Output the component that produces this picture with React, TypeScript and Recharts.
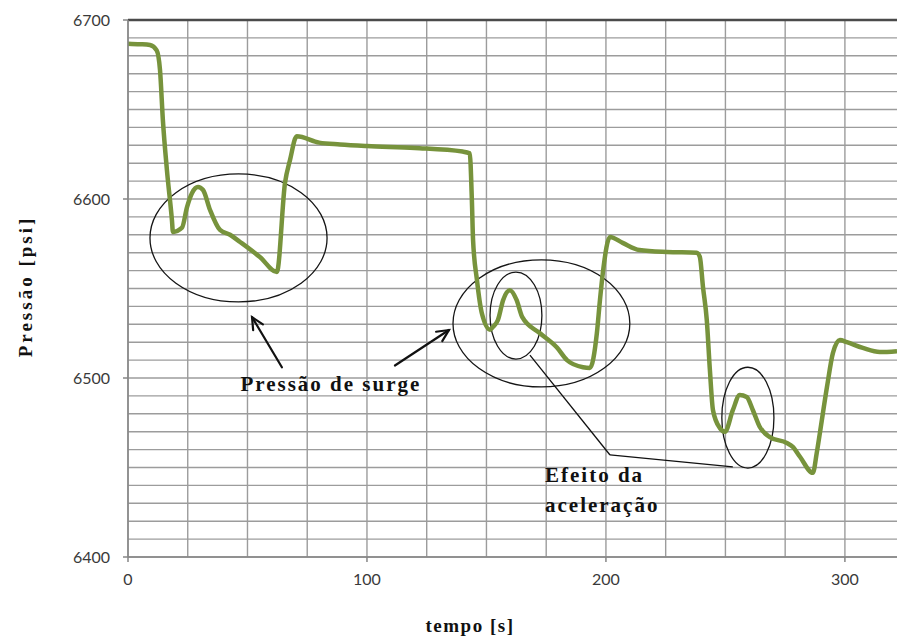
import React from 'react';
import {
  LineChart,
  Line,
  XAxis,
  YAxis,
  CartesianGrid,
  ReferenceArea,
  ReferenceLine,
  ReferenceDot,
} from 'recharts';

// time [s] and pressure [psi] samples of the surge run
const time = [
  0, 5, 9.2, 12, 13.4, 14.6, 16.3, 18.4, 18.8, 22.6, 24.7, 26.8, 29.3, 31.4, 34.3, 38.5, 42.7,
  46.9, 55.2, 62.3, 65.7, 67.8, 70.6, 80, 88.7, 100, 120, 140, 143, 143.9, 144.4, 146, 148.1,
  151.5, 152.7, 154.8, 157, 159.8, 162.6, 165, 172.4, 179.5, 183.7, 190.4, 193.3, 196.2, 197.5,
  198.7, 201.7, 207, 214, 225.5, 238, 239.3, 240.6, 242.2, 243.5, 244.8, 247.7, 249.8, 253.1,
  256, 258.9, 261.5, 264.4, 268.6, 275.7, 278.2, 281.2, 286.6, 288.2, 289.5, 292.5, 295, 297.9,
  300.8, 307.5, 314.6, 321.8,
];
const pressure = [
  6686.8, 6686.5, 6686, 6683, 6672, 6644, 6616, 6588, 6581.6, 6584, 6595.5, 6603.4, 6606.7, 6605,
  6594, 6582.7, 6580, 6576, 6567.6, 6559.2, 6609, 6621.8, 6635, 6631.5, 6630.5, 6629.6, 6628.5,
  6626.5, 6625.5, 6599.4, 6577, 6555, 6536, 6527, 6528.5, 6532.4, 6543.6, 6549, 6543.6, 6534, 6525,
  6517, 6510, 6506, 6505.6, 6525, 6543.6, 6558.7, 6578.8, 6575.5, 6571.5, 6570.4, 6570, 6567.6,
  6551, 6532.4, 6504.5, 6482, 6472, 6470, 6482, 6490.5, 6489.4, 6482, 6472.6, 6467, 6463.7, 6461.5,
  6456, 6447, 6458, 6469, 6495, 6514, 6521.2, 6520, 6516.8, 6514.5, 6515,
];

const xTicks = [0, 100, 200, 300];
const yTicks = [6400, 6500, 6600, 6700];
const xGrid = [0, 25, 50, 75, 100, 125, 150, 175, 200, 225, 250, 275, 300];
const yGrid = Array.from({ length: 31 }, (_, i) => 6400 + i * 10);

// annotation ellipses: [t1, t2, p1, p2]
const ellipses = [
  [9.2, 83.3, 6542.5, 6614],
  [136, 210, 6495, 6566],
  [151.5, 173.2, 6510.6, 6559.2],
  [248.5, 270.3, 6449.7, 6506],
];
// arrows: [tTail, pTail, tHead, pHead]
const arrows = [
  [64.4, 6506, 51.9, 6534],
  [111.7, 6507, 134.3, 6526.8],
];
// leader line from the small ellipses to the caption
const leader = [
  [168.2, 6512.8, 201.7, 6457],
  [201.7, 6457, 253.1, 6450.3],
];

const data = time.map((t, i) => ({ t, p: pressure[i] }));

const serif = '"Liberation Serif", "Times New Roman", serif';
const sans = 'Lato, "Open Sans", sans-serif';

const Ellipse = (props: any) => {
  const { x, y, width, height } = props;
  return (
    <ellipse
      cx={x + width / 2}
      cy={y + height / 2}
      rx={Math.abs(width) / 2}
      ry={Math.abs(height) / 2}
      fill="none"
      stroke="#151515"
      strokeWidth={1.3}
    />
  );
};

const Arrow = (props: any) => {
  const { x1, y1, x2, y2 } = props;
  const a = Math.atan2(y2 - y1, x2 - x1);
  const len = 13;
  const spread = 0.45;
  const h1x = x2 - len * Math.cos(a - spread);
  const h1y = y2 - len * Math.sin(a - spread);
  const h2x = x2 - len * Math.cos(a + spread);
  const h2y = y2 - len * Math.sin(a + spread);
  return (
    <g stroke="#111" strokeWidth={2.2} fill="none" strokeLinecap="round">
      <line x1={x1} y1={y1} x2={x2} y2={y2} />
      <polyline points={`${h1x},${h1y} ${x2},${y2} ${h2x},${h2y}`} />
    </g>
  );
};

const Caption = (text: string, anchor: 'start' | 'middle') => (props: any) => (
  <text
    x={props.cx}
    y={props.cy}
    textAnchor={anchor}
    dominantBaseline="central"
    fontFamily={serif}
    fontWeight="bold"
    fontSize={21}
    letterSpacing={2}
    fill="#111"
  >
    {text}
  </text>
);

export default function App() {
  return (
    <div style={{ position: 'absolute', left: 0, top: 0, width: 897, height: 639, background: '#fff' }}>
      <LineChart width={897} height={639} data={data} margin={{ top: 20, right: 0, bottom: 0, left: 0 }}>
        <CartesianGrid stroke="#9c9c9c" strokeWidth={1.4} horizontalValues={yGrid} verticalValues={xGrid} />
        <XAxis
          dataKey="t"
          type="number"
          domain={[0, 321.8]}
          ticks={xTicks}
          interval={0}
          allowDataOverflow
          height={82}
          tickSize={5}
          tickMargin={12}
          stroke="#868686"
          strokeWidth={1.5}
          tick={{ fill: '#3a3a3a', fontSize: 16, fontFamily: sans }}
          label={{
            content: ({ viewBox }: any) => (
              <text
                x={viewBox.x + 342}
                y={625}
                textAnchor="middle"
                dominantBaseline="central"
                fontFamily={serif}
                fontWeight="bold"
                fontSize={19}
                letterSpacing={1.5}
                fill="#111"
              >
                tempo [s]
              </text>
            ),
          }}
        />
        <YAxis
          dataKey="p"
          type="number"
          domain={[6400, 6700]}
          ticks={yTicks}
          interval={0}
          allowDataOverflow
          width={128}
          tickSize={5}
          tickMargin={13}
          stroke="#868686"
          strokeWidth={1.5}
          tick={{ fill: '#3a3a3a', fontSize: 16, fontFamily: sans }}
          label={{
            content: ({ viewBox }: any) => {
              const cx = 25;
              const cy = viewBox.y + viewBox.height / 2 - 2;
              return (
                <text
                  x={cx}
                  y={cy}
                  transform={`rotate(-90, ${cx}, ${cy})`}
                  textAnchor="middle"
                  dominantBaseline="central"
                  fontFamily={serif}
                  fontWeight="bold"
                  fontSize={19}
                  letterSpacing={3}
                  fill="#111"
                >
                  Pressão [psi]
                </text>
              );
            },
          }}
        />
        <ReferenceLine y={6700} stroke="#4a4a4a" strokeWidth={2.5} />
        <Line
          type="monotone"
          dataKey="p"
          stroke="#77933c"
          strokeWidth={4.5}
          strokeLinejoin="round"
          dot={false}
          isAnimationActive={false}
        />
        {ellipses.map(([t1, t2, p1, p2], i) => (
          <ReferenceArea key={`e${i}`} x1={t1} x2={t2} y1={p1} y2={p2} shape={Ellipse} />
        ))}
        {arrows.map(([ta, pa, tb, pb], i) => (
          <ReferenceLine
            key={`a${i}`}
            segment={[
              { x: ta, y: pa },
              { x: tb, y: pb },
            ]}
            shape={Arrow}
          />
        ))}
        {leader.map(([ta, pa, tb, pb], i) => (
          <ReferenceLine
            key={`l${i}`}
            segment={[
              { x: ta, y: pa },
              { x: tb, y: pb },
            ]}
            stroke="#111"
            strokeWidth={1.3}
          />
        ))}
        <ReferenceDot x={84.9} y={6496.6} r={0} shape={Caption('Pressão de surge', 'middle')} />
        <ReferenceDot x={174.5} y={6445.8} r={0} shape={Caption('Efeito da', 'start')} />
        <ReferenceDot x={174.5} y={6429} r={0} shape={Caption('aceleração', 'start')} />
      </LineChart>
    </div>
  );
}
